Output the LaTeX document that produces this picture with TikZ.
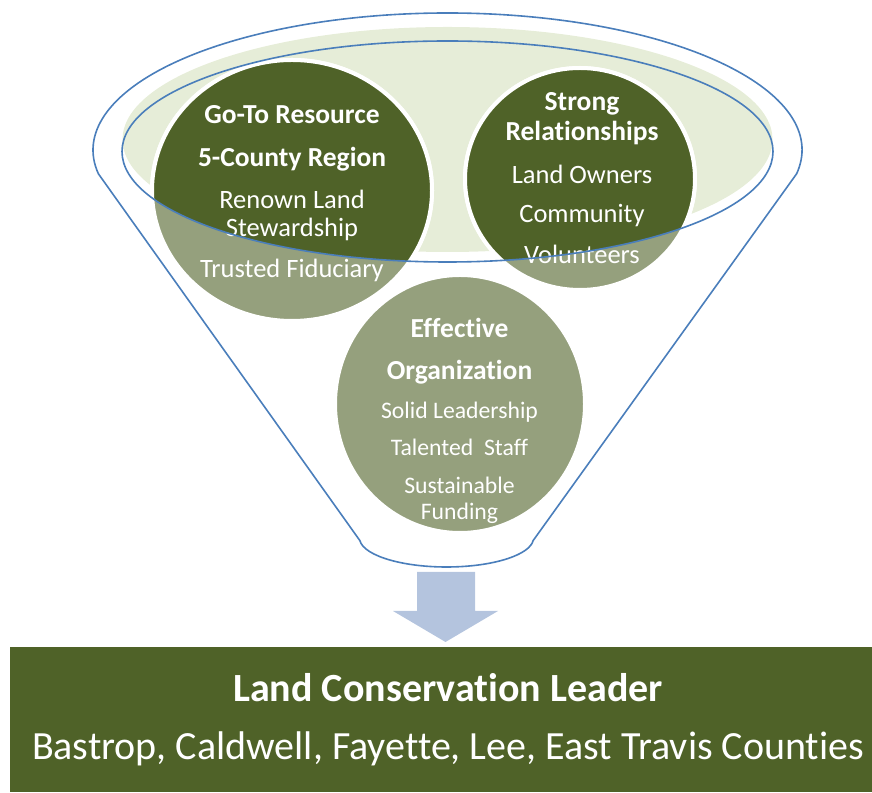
\documentclass[tikz,border=0pt]{standalone}
\usepackage{fontspec}
\setmainfont{Carlito}[Ligatures=NoCommon]
\usepackage{tikz}
\usetikzlibrary{calc}
\definecolor{olivedark}{HTML}{4F6228}
\definecolor{olivelight}{HTML}{95A07D}
\definecolor{olivepale}{HTML}{E6EDD8}
\definecolor{funnelblue}{HTML}{4A7EBB}
\definecolor{arrowblue}{HTML}{B4C4DE}

\begin{document}
\begin{tikzpicture}[x=1pt,y=1pt,
    bubble/.style={draw=white, line width=4pt},
    funnel/.style={draw=funnelblue, line width=1.6pt, line join=round},
    bubbletext/.style={text=white, align=center, anchor=base, inner sep=0pt},
    leaderbox/.style={fill=olivedark, text=white, align=center, inner sep=0pt,
        minimum width=876pt, minimum height=145pt}]
    \useasboundingbox (0,0) rectangle (872,792);
    \coordinate (top) at (447.5,642);
    \coordinate (bottom) at (446.5,254);

    \fill[olivepale] (447.5,652.5) ellipse [x radius=325pt, y radius=112.5pt];
    \draw[bubble, fill=olivelight] (292,601.5) ellipse [x radius=140pt, y radius=130.5pt];
    \draw[bubble, fill=olivelight] (580,613) ellipse [x radius=115pt, y radius=111pt];
    \draw[bubble, fill=olivelight] (460,388) ellipse [x radius=125pt, y radius=129pt];
    \begin{scope}
        \clip (447.5,640.5) ellipse [x radius=325.5pt, y radius=110.5pt];
        \draw[bubble, fill=olivedark] (292,601.5) ellipse [x radius=140pt, y radius=130.5pt];
        \draw[bubble, fill=olivedark] (580,613) ellipse [x radius=115pt, y radius=111pt];
    \end{scope}

    \node[bubbletext, font=\fontsize{26.5}{28}\selectfont] (resource) at (292,514)
        {{\fontsize{27.5}{28}\selectfont\bfseries Go-To Resource}\\[14.7pt]
         {\fontsize{27.5}{28}\selectfont\bfseries 5-County Region}\\[14.3pt]
         Renown Land\\Stewardship\\[13pt]Trusted Fiduciary};
    \node[bubbletext, font=\fontsize{26.5}{29.3}\selectfont] (relations) at (582,528.7)
        {{\fontsize{27.5}{29.3}\selectfont\bfseries Strong}\\
         {\fontsize{27.5}{29.3}\selectfont\bfseries Relationships}\\[14pt]
         Land Owners\\[10pt]Community\\[11.3pt]Volunteers};
    \node[bubbletext, font=\fontsize{23.7}{26}\selectfont] (organization) at (459.5,272.7)
        {{\fontsize{27.5}{26}\selectfont\bfseries Effective}\\[16.3pt]
         {\fontsize{27.5}{26}\selectfont\bfseries Organization}\\[13pt]
         Solid Leadership\\[11pt]Talented~ Staff\\[11.3pt]Sustainable\\Funding};

    \draw[funnel] (447.5,640.5) ellipse [x radius=325.5pt, y radius=110.5pt];
    \draw[funnel] ($(top)+(190:354.5pt and 137pt)$)
        -- ($(bottom)+(185:87pt and 29pt)$)
        arc[start angle=185, end angle=355, x radius=87pt, y radius=29pt]
        -- ($(top)+(350:354.5pt and 137pt)$)
        arc[start angle=-10, end angle=190, x radius=354.5pt, y radius=137pt]
        -- cycle;

    \fill[arrowblue] (417,220) -- (475,220) -- (475,181) -- (498,181)
        -- (445.5,150) -- (393,181) -- (417,181) -- cycle;

    \node[leaderbox, font=\fontsize{40}{48}\selectfont] (leader) at (448,72.5)
        {\textbf{Land Conservation Leader}\\[10pt]
         Bastrop, Caldwell, Fayette, Lee, East Travis Counties};
\end{tikzpicture}
\end{document}
